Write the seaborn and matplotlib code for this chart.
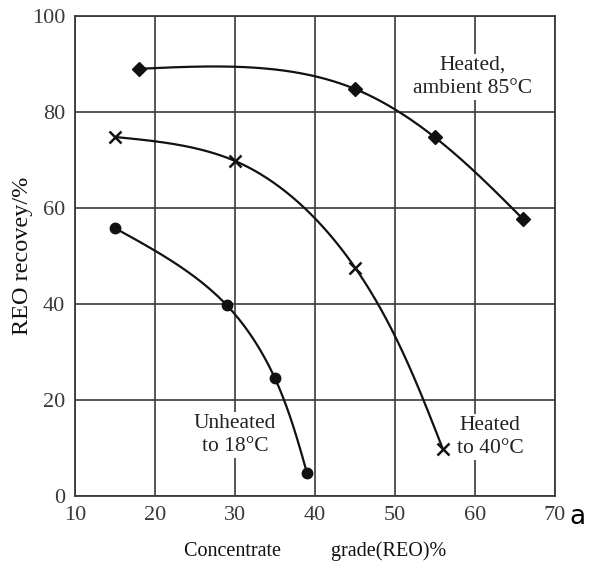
import matplotlib
matplotlib.use("Agg")
import matplotlib.pyplot as plt
import seaborn as sns
import numpy as np
import pandas as pd

# Data
grade_85 = [18, 45, 55, 66]
recovery_85 = [89, 84.8, 74.7, 57.7]
grade_40 = [15, 30, 45, 56]
recovery_40 = [74.8, 69.8, 47.6, 9.7]
grade_18 = [15, 29, 35, 39]
recovery_18 = [55.8, 39.7, 24.5, 4.8]

x_ticks = [10, 20, 30, 40, 50, 60, 70]
y_ticks = [0, 20, 40, 60, 80, 100]


def natural_spline(t, v, tt):
    t = np.asarray(t, float); v = np.asarray(v, float)
    n = len(t) - 1
    h = np.diff(t)
    A = np.zeros((n + 1, n + 1)); b = np.zeros(n + 1)
    A[0, 0] = 1; A[n, n] = 1
    for i in range(1, n):
        A[i, i - 1] = h[i - 1]; A[i, i] = 2 * (h[i - 1] + h[i]); A[i, i + 1] = h[i]
        b[i] = 6 * ((v[i + 1] - v[i]) / h[i] - (v[i] - v[i - 1]) / h[i - 1])
    M = np.linalg.solve(A, b)
    out = np.empty_like(tt)
    for k, x in enumerate(tt):
        i = min(max(np.searchsorted(t, x) - 1, 0), n - 1)
        hi = h[i]
        a1 = t[i + 1] - x; a2 = x - t[i]
        out[k] = (M[i] * a1 ** 3 + M[i + 1] * a2 ** 3) / (6 * hi) \
            + (v[i] / hi - M[i] * hi / 6) * a1 + (v[i + 1] / hi - M[i + 1] * hi / 6) * a2
    return out


def smooth_curve(gx, gy):
    # parametric spline with chord length measured in screen units (8 px / x unit, 4.8 px / y unit)
    px = np.asarray(gx, float) * 8.0
    py = np.asarray(gy, float) * 4.8
    t = np.concatenate([[0], np.cumsum(np.hypot(np.diff(px), np.diff(py)))])
    tt = np.linspace(0, t[-1], 300)
    return natural_spline(t, gx, tt), natural_spline(t, gy, tt)


sns.set_style("white")
plt.rcParams['font.family'] = ['Liberation Serif', 'DejaVu Serif']

fig = plt.figure(figsize=(5.9, 5.64), dpi=100)
ax = fig.add_axes([75/590, 68/564, 480/590, 480/564])

series = [
    (grade_85, recovery_85, 'D', 7),
    (grade_40, recovery_40, 'x', 9),
    (grade_18, recovery_18, 'o', 7.5),
]
for gx, gy, mk, ms in series:
    cx, cy = smooth_curve(gx, gy)
    sns.lineplot(x=cx, y=cy, sort=False, estimator=None, ax=ax, color='#111111', lw=1.6)
    df = pd.DataFrame({'g': gx, 'r': gy})
    ax.plot(df['g'], df['r'], linestyle='none', marker=mk, markersize=ms,
            color='#111111', markeredgewidth=1.8 if mk == 'x' else 1.0, zorder=5)

ax.set_xlim(10, 70)
ax.set_ylim(0, 100)
ax.set_xticks(x_ticks)
ax.set_yticks(y_ticks)
ax.set_xticklabels([str(t) for t in x_ticks], fontsize=16, color='#3a3a3a')
ax.set_yticklabels([str(t) for t in y_ticks], fontsize=16, color='#3a3a3a')
ax.tick_params(axis='both', length=0, pad=7)
ax.grid(True, color='#3a3a3a', lw=1.2)
ax.set_axisbelow(True)
for s in ax.spines.values():
    s.set_color('#3a3a3a')
    s.set_linewidth(1.3)

ax.set_xlabel('Concentrate          grade(REO)%', fontsize=14.5, color='#111111', labelpad=12)
ax.set_ylabel('REO recovey/%', fontsize=17.5, color='#111111')
ax.yaxis.set_label_coords(-0.088, 0.5)

box = dict(facecolor='white', edgecolor='none', pad=1)
kw = dict(ha='center', va='center', fontsize=15.5, color='#222222', linespacing=1.35,
          bbox=box, zorder=3)
ax.text(59.7, 87.3, 'Heated,\nambient 85°C', **kw)
ax.text(30, 12.7, 'Unheated\nto 18°C', **kw)
ax.text(61.9, 12.3, 'Heated\nto 40°C', **kw)

fig.text(577/590, 1 - 517/564, 'a', ha='center', va='center', fontsize=19,
         family='DejaVu Sans', color='black')

fig.savefig('out.png', dpi=100)
